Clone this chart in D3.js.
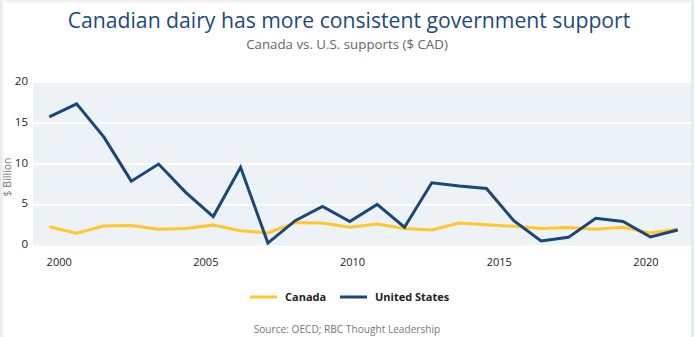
<!DOCTYPE html>
<html><head><meta charset="utf-8">
<script src="https://cdn.jsdelivr.net/npm/d3@7"></script>
<style>body{margin:0;background:#fff}svg{display:block}text{font-family:"Open Sans",sans-serif}</style>
</head><body>
<svg id="c" width="694" height="337"></svg>
<script>
const titleText = "Canadian dairy has more consistent government support";
const subtitleText = "Canada vs. U.S. supports ($ CAD)";
const sourceText = "Source: OECD; RBC Thought Leadership";
const yAxisTitle = "$ Billion";
const yTicks = [0, 5, 10, 15, 20];
const yearTicks = [2000, 2005, 2010, 2015, 2020];
const seriesNames = ["Canada", "United States"];
const seriesColors = ["#ffc72c", "#1b4677"];
const canada = [2.3, 1.5, 2.4, 2.45, 2.0, 2.1, 2.5, 1.8, 1.55, 2.8, 2.75, 2.25, 2.65, 2.1, 1.9, 2.75, 2.55, 2.35, 2.1, 2.2, 2.0, 2.25, 1.55, 2.0];
const us = [15.8, 17.4, 13.3, 7.9, 10.0, 6.5, 3.55, 9.6, 0.3, 3.05, 4.8, 2.95, 5.05, 2.25, 7.7, 7.3, 7.0, 3.05, 0.55, 1.0, 3.35, 2.95, 1.05, 1.9];
const axisYearStart = 1999.68, axisYearEnd = 2021.1;

const svg = d3.select("#c");
const W = 694, H = 337;
const plot = {left: 33, right: 691, top: 83, bottom: 245.5};
const xLeft = 49.3, xRight = 677.7;

// edge shadows
const defs = svg.append("defs");
const gl = defs.append("linearGradient").attr("id","gl");
gl.append("stop").attr("offset","0").attr("stop-color","#e6e6e6");
gl.append("stop").attr("offset","1").attr("stop-color","#ffffff");
const gt = defs.append("linearGradient").attr("id","gt").attr("x1",0).attr("x2",0).attr("y1",0).attr("y2",1);
gt.append("stop").attr("offset","0").attr("stop-color","#ececec");
gt.append("stop").attr("offset","1").attr("stop-color","#ffffff");
svg.append("rect").attr("x",0).attr("y",0).attr("width",W).attr("height",4).attr("fill","url(#gt)");
svg.append("rect").attr("x",0).attr("y",0).attr("width",5).attr("height",H).attr("fill","url(#gl)");
svg.append("rect").attr("x",691).attr("y",0).attr("width",3).attr("height",H).attr("fill","#e9eaeb");

const x = d3.scaleLinear().domain([0, us.length - 1]).range([xLeft, xRight]);
const xYear = d3.scaleLinear().domain([axisYearStart, axisYearEnd]).range([xLeft, xRight]);
const y = d3.scaleLinear().domain([0, 20]).range([plot.bottom, 82.6]);

svg.append("rect").attr("x", plot.left).attr("y", plot.top)
  .attr("width", plot.right - plot.left).attr("height", plot.bottom - plot.top)
  .attr("fill", "#edf2f7");

svg.append("g").selectAll("line").data(yTicks.filter(d => d > 0 && d < 20)).join("line")
  .attr("x1", plot.left).attr("x2", plot.right)
  .attr("y1", d => y(d)).attr("y2", d => y(d))
  .attr("stroke", "#fff").attr("stroke-width", 2);

// y axis labels
const yAxis = d3.axisLeft(y).tickValues(yTicks).tickSize(0).tickPadding(0);
const gy = svg.append("g").attr("transform", "translate(28,-1.5)").call(yAxis);
gy.select(".domain").remove();
gy.selectAll("text").attr("font-size", 11.5).attr("fill", "#222").style("font-family", "'Open Sans',sans-serif");

// x axis labels
const xAxis = d3.axisBottom(xYear).tickValues(yearTicks).tickFormat(d3.format("d")).tickSize(0).tickPadding(0);
const gx = svg.append("g").attr("transform", "translate(0,258)").call(xAxis);
gx.select(".domain").remove();
gx.selectAll("text").attr("font-size", 11).attr("fill", "#222").style("font-family", "'Open Sans',sans-serif");

svg.append("text").attr("transform", "translate(11,177) rotate(-90)")
  .attr("text-anchor", "middle").attr("font-size", 10.5).attr("fill", "#777").text(yAxisTitle);

const line = d3.line().x((d, i) => x(i)).y(d => y(d));
[canada, us].forEach((s, k) => {
  svg.append("path").datum(s).attr("d", line).attr("fill", "none")
    .attr("stroke", seriesColors[k]).attr("stroke-width", 3).attr("stroke-linejoin", "miter");
});

// title
function fit(sel, target) {
  const len = sel.node().getComputedTextLength();
  const fs = parseFloat(sel.attr("font-size"));
  sel.attr("font-size", fs * target / len);
}
const t = svg.append("text").attr("x", 349).attr("y", 28).attr("text-anchor", "middle")
  .attr("font-size", 24).attr("fill", "#1d4a80").text(titleText);
fit(t, 563);
const st = svg.append("text").attr("x", 347).attr("y", 49).attr("text-anchor", "middle")
  .attr("font-size", 14).attr("fill", "#666").text(subtitleText);
fit(st, 202);

// legend
const legX = [250, 340];
const leg = svg.append("g");
seriesNames.forEach((n, k) => {
  leg.append("line").attr("x1", legX[k]).attr("x2", legX[k] + 27).attr("y1", 297).attr("y2", 297)
    .attr("stroke", seriesColors[k]).attr("stroke-width", 3);
  leg.append("text").attr("x", legX[k] + 35).attr("y", 301).attr("font-size", 11)
    .attr("font-weight", "bold").attr("fill", "#222").text(n);
});

const src = svg.append("text").attr("x", 347).attr("y", 333).attr("text-anchor", "middle")
  .attr("font-size", 11).attr("fill", "#777").text(sourceText);
fit(src, 187);
</script>
</body></html>
